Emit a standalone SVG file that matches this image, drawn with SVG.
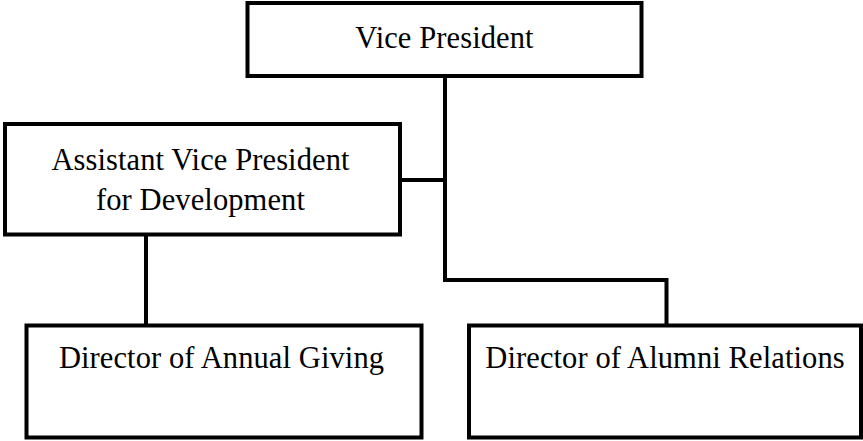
<svg xmlns="http://www.w3.org/2000/svg" width="863" height="441" viewBox="0 0 863 441">
<style>
.box{fill:#fff;stroke:#000;stroke-width:4}
.ln{fill:none;stroke:#000;stroke-width:4;stroke-linejoin:miter;stroke-linecap:square}
.t{font-family:"Liberation Serif","Times New Roman",serif;font-size:30.5px;letter-spacing:0.1px;fill:#000;text-anchor:middle}
</style>
<rect width="863" height="441" fill="#fff"/>
<g id="connectors">
<path class="ln" d="M445,78 V280 H666.5 V323"/>
<path class="ln" d="M402,180 H445"/>
<path class="ln" d="M146,236 V323"/>
</g>
<g id="vp">
<rect class="box" x="247.5" y="3" width="394" height="73"/>
<text class="t" x="444.5" y="48">Vice President</text>
</g>
<g id="avp">
<rect class="box" x="5" y="124" width="395" height="110.5"/>
<text class="t" x="200.5" y="170">Assistant Vice President</text>
<text class="t" x="200.5" y="210">for Development</text>
</g>
<g id="annual">
<rect class="box" x="26.5" y="325.5" width="395" height="112"/>
<text class="t" x="221.5" y="368">Director of Annual Giving</text>
</g>
<g id="alumni">
<rect class="box" x="469" y="325.5" width="392" height="112"/>
<text class="t" x="665" y="368">Director of Alumni Relations</text>
</g>
</svg>
